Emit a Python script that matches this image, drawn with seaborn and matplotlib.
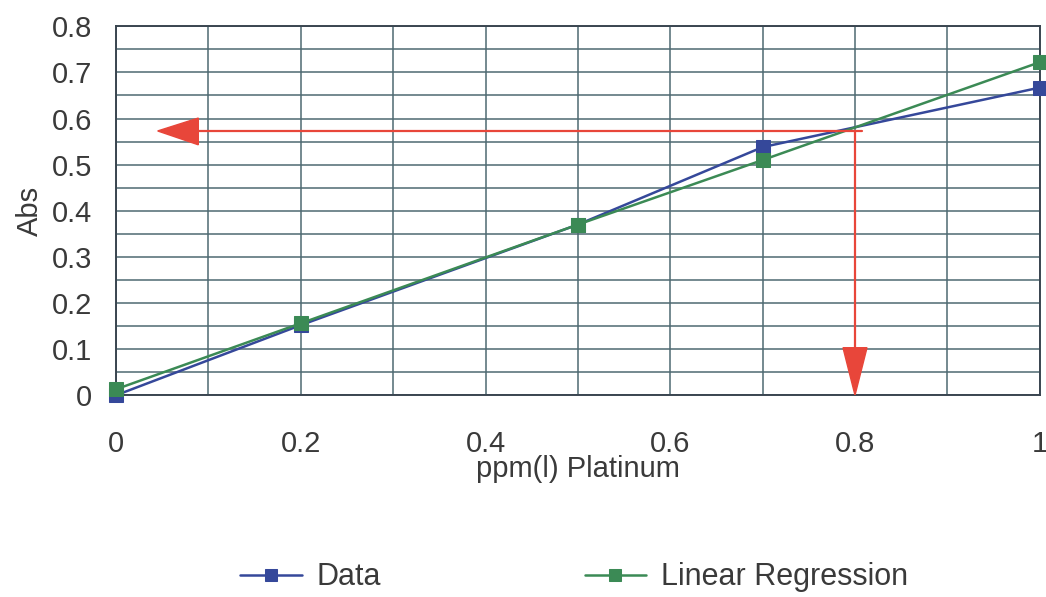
import numpy as np
import pandas as pd
import matplotlib
matplotlib.use("Agg")
import matplotlib.pyplot as plt
import seaborn as sns

# calibration points
ppm = [0.0, 0.2, 0.5, 0.7, 1.0]
abs_data = [0.0, 0.152, 0.37, 0.538, 0.667]
abs_fit = [0.013, 0.156, 0.37, 0.51, 0.722]

# the sample reading marked with red arrows
sample_ppm = 0.8
sample_abs = 0.573

blue = "#35489a"
green = "#3b8a55"
red = "#e8463a"
grid_col = "#4e6a72"
txt = "#3a3a3a"

sns.set_style("white")
plt.rcParams["font.family"] = ["Liberation Sans", "DejaVu Sans"]

df = pd.DataFrame({
    "ppm": ppm * 2,
    "Abs": abs_data + abs_fit,
    "series": ["Data"] * len(ppm) + ["Linear Regression"] * len(ppm),
})

fig = plt.figure(figsize=(10.46, 5.97), dpi=100)
ax = fig.add_axes([0.111, 0.338, 0.883, 0.618])

sns.lineplot(data=df, x="ppm", y="Abs", hue="series",
             palette={"Data": blue, "Linear Regression": green},
             marker="s", markersize=10, linewidth=1.8,
             ax=ax, legend=True, zorder=3, clip_on=False)
for ln in ax.lines:
    ln.set_markeredgecolor(ln.get_color())

ax.set_xlim(0, 1)
ax.set_ylim(0, 0.8)
ax.set_xticks(np.arange(0, 1.01, 0.2))
ax.set_xticklabels(["0", "0.2", "0.4", "0.6", "0.8", "1"])
ax.set_xticks(np.arange(0, 1.01, 0.1), minor=True)
ax.set_yticks(np.arange(0, 0.81, 0.1))
ax.set_yticklabels(["0"] + [f"{v:.1f}" for v in np.arange(0.1, 0.81, 0.1)])
ax.set_yticks(np.arange(0, 0.81, 0.05), minor=True)
ax.grid(True, which="both", color=grid_col, linewidth=1.1)
ax.tick_params(axis="both", which="both", labelsize=21, colors=txt,
               width=1.1, direction="out")
ax.tick_params(axis="x", which="both", length=6)
ax.tick_params(axis="x", which="major", pad=19)
ax.tick_params(axis="y", which="major", length=13, pad=4)
ax.tick_params(axis="y", which="minor", length=7)
for sp in ax.spines.values():
    sp.set_color("#3a4550")
    sp.set_linewidth(1.4)

ax.set_xlabel("ppm(l) Platinum", fontsize=21, color=txt, labelpad=-2)
ax.set_ylabel("Abs", fontsize=21, color=txt, labelpad=6)

# red reading arrows
ax.plot([sample_ppm + 0.008, 0.09], [sample_abs, sample_abs], color=red, lw=1.6, zorder=4)
ax.plot([sample_ppm, sample_ppm], [sample_abs, 0.1], color=red, lw=1.6, zorder=4)
ax.fill([0.089, 0.045, 0.089], [sample_abs + 0.028, sample_abs, sample_abs - 0.03],
        color=red, zorder=5)
ax.fill([sample_ppm - 0.013, sample_ppm, sample_ppm + 0.013], [0.103, 0.0, 0.103],
        color=red, zorder=5)

handles, labels = ax.get_legend_handles_labels()
for h in handles:
    h.set_markeredgecolor(h.get_color())
ax.legend_.remove()
fig.legend(handles, labels, loc="center", bbox_to_anchor=(0.549, 0.033), ncol=2,
           frameon=False, fontsize=22, columnspacing=6.65, handlelength=2.0,
           handletextpad=0.5, labelcolor=txt, markerscale=0.8)

fig.savefig("out.png", dpi=100, facecolor="white")
